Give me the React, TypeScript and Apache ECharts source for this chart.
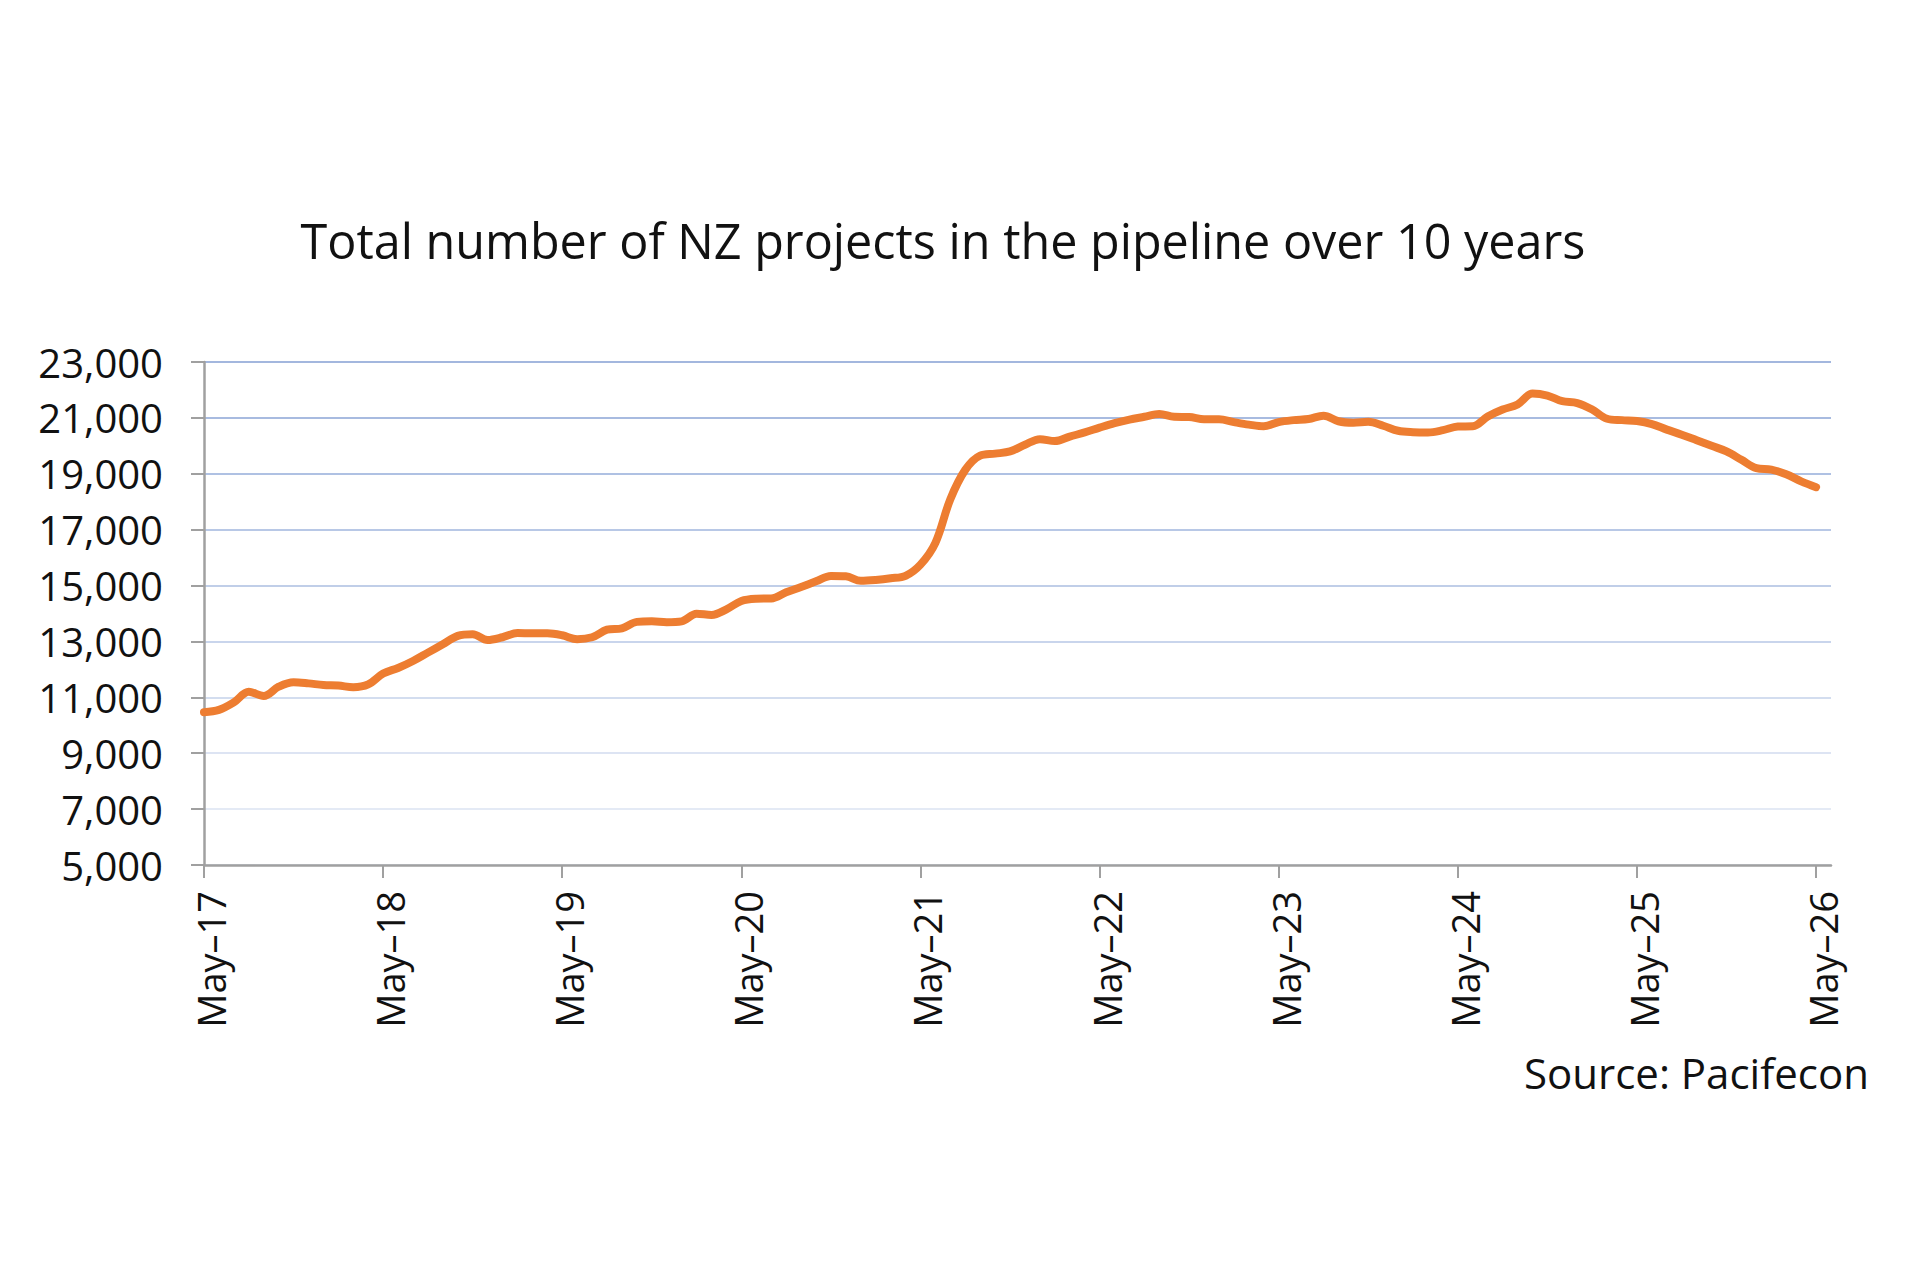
import React, { useEffect, useRef } from "react";
import * as echarts from "echarts";

const TITLE = "Total number of NZ projects in the pipeline over 10 years";
const SOURCE = "Source: Pacifecon";

const MONTHS = ["Jan", "Feb", "Mar", "Apr", "May", "Jun", "Jul", "Aug", "Sep", "Oct", "Nov", "Dec"];
const YEARS = [17, 18, 19, 20, 21, 22, 23, 24, 25, 26];

// Monthly categories May-17 .. Jun-26
const categories: string[] = [];
YEARS.forEach((y) => {
  MONTHS.forEach((m, mi) => {
    const idx = (y - 17) * 12 + mi - 4;
    if (idx >= 0 && idx <= 109) categories.push(`${m}–${y}`);
  });
});

// Total projects in the pipeline, monthly from May-17 to May-26
const projects2017 = [10470, 10550, 10820, 11200, 11050, 11380, 11540, 11500];
const projects2018 = [11440, 11420, 11360, 11460, 11850, 12050, 12300, 12600, 12900, 13200, 13260, 13050];
const projects2019 = [13150, 13300, 13290, 13290, 13220, 13080, 13150, 13420, 13470, 13700, 13720, 13690];
const projects2020 = [13720, 13990, 13950, 14150, 14450, 14530, 14540, 14760, 14950, 15150, 15340, 15330];
const projects2021 = [15170, 15200, 15260, 15350, 15750, 16530, 18090, 19140, 19650, 19720, 19800, 20040];
const projects2022 = [20240, 20170, 20330, 20480, 20650, 20810, 20940, 21040, 21140, 21040, 21030, 20950];
const projects2023 = [20950, 20850, 20760, 20700, 20850, 20920, 20960, 21080, 20880, 20830, 20860, 20720];
const projects2024 = [20540, 20490, 20480, 20560, 20690, 20700, 21050, 21300, 21480, 21870, 21800, 21600];
const projects2025 = [21530, 21300, 20970, 20920, 20890, 20780, 20580, 20400, 20200, 20000, 19800, 19500];
const projects2026 = [19200, 19150, 18980, 18730, 18520];

const projects = [
  ...projects2017, ...projects2018, ...projects2019, ...projects2020, ...projects2021,
  ...projects2022, ...projects2023, ...projects2024, ...projects2025, ...projects2026,
];

const Y_MIN = 5000;
const Y_MAX = 23000;
const Y_STEP = 2000;

const GRID_COLORS = [
  "#dfe6f3", "#e4eaf5", "#dde4f3", "#d3ddef", "#c9d5ec",
  "#c0cee8", "#b8c8e6", "#afc1e3", "#a8bbe0", "#a3b7de",
];

const FONT = "'Open Sans', 'Noto Sans', sans-serif";

export default function App() {
  const ref = useRef<HTMLDivElement>(null);

  useEffect(() => {
    if (!ref.current) return;
    const chart = echarts.init(ref.current, undefined, { renderer: "svg" });
    chart.setOption({
      animation: false,
      backgroundColor: "#ffffff",
      title: {
        text: TITLE,
        left: 938,
        top: 210,
        textAlign: "center",
        textStyle: { fontFamily: FONT, fontSize: 48.5, fontWeight: "normal", color: "#111111" },
      },
      graphic: [
        {
          type: "text",
          right: 51,
          top: 1051,
          style: { text: SOURCE, font: `42px ${FONT}`, fill: "#111111" },
        },
      ],
      grid: { left: 204, right: 89, top: 362, bottom: 415, containLabel: false },
      xAxis: {
        type: "category",
        data: categories,
        boundaryGap: false,
        axisLine: { show: true, lineStyle: { color: "#a0a0a0", width: 2.5 } },
        axisTick: { show: true, interval: 11, length: 13, lineStyle: { color: "#a0a0a0", width: 2 } },
        axisLabel: {
          interval: 11,
          rotate: 90,
          margin: 26,
          verticalAlign: "top",
          lineHeight: 14,
          fontFamily: FONT,
          fontSize: 38,
          color: "#111111",
        },
        splitLine: { show: false },
      },
      yAxis: {
        type: "value",
        min: Y_MIN,
        max: Y_MAX,
        interval: Y_STEP,
        axisLine: { show: true, lineStyle: { color: "#a0a0a0", width: 2.5 } },
        axisTick: { show: true, length: 13, lineStyle: { color: "#a0a0a0", width: 2 } },
        axisLabel: {
          margin: 41,
          fontFamily: FONT,
          fontSize: 40,
          color: "#111111",
          formatter: (v: number) => v.toLocaleString("en-US"),
        },
        splitLine: { show: true, lineStyle: { color: GRID_COLORS, width: 2 } },
      },
      series: [
        {
          type: "line",
          data: projects,
          smooth: 0.35,
          symbol: "none",
          lineStyle: { color: "#ed7d31", width: 8, cap: "round", join: "round" },
        },
      ],
    });
    return () => chart.dispose();
  }, []);

  return (
    <div
      ref={ref}
      style={{ position: "absolute", left: 0, top: 0, width: 1920, height: 1280, background: "#fff" }}
    />
  );
}
